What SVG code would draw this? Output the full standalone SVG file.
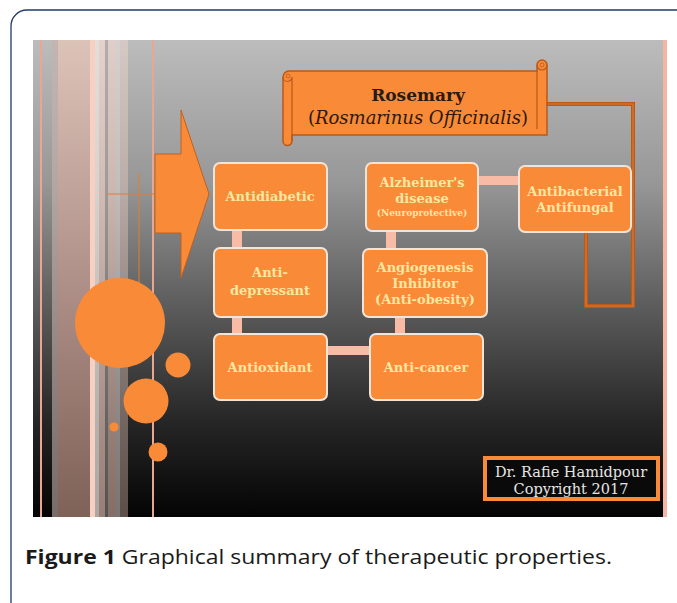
<svg xmlns="http://www.w3.org/2000/svg" width="677" height="603" viewBox="0 0 677 603">
<defs>
<linearGradient id="bg" x1="0" y1="0" x2="0" y2="1">
<stop offset="0" stop-color="#bcbcbc"/>
<stop offset="0.3" stop-color="#979797"/>
<stop offset="0.55" stop-color="#5e5e5e"/>
<stop offset="0.8" stop-color="#262626"/>
<stop offset="1" stop-color="#040404"/>
</linearGradient>
<linearGradient id="brown" x1="0" y1="0" x2="0" y2="1">
<stop offset="0" stop-color="#dcc3b8"/>
<stop offset="0.5" stop-color="#b0918a"/>
<stop offset="1" stop-color="#7e6157"/>
</linearGradient>
<linearGradient id="pale" x1="0" y1="0" x2="0" y2="1">
<stop offset="0" stop-color="#f3d9cf"/>
<stop offset="1" stop-color="#c9a89c"/>
</linearGradient>
<style>
.box{fill:#f98a38;stroke:#f3e4da;stroke-width:2}
.lk{fill:#f8bba6}
.bt{font-family:"DejaVu Serif","Liberation Serif",serif;font-weight:bold;font-size:13px;fill:#fbe7a0;text-anchor:middle}
.sm{font-size:9px}
.circ{fill:#f98a38}
.br{fill:none;stroke:#b95a1b;stroke-width:4;stroke-linejoin:miter}
.bri{fill:none;stroke:#e2782e;stroke-width:1.2}
.ser{font-family:"DejaVu Serif","Liberation Serif",serif}
</style>
</defs>
<!-- frame -->
<rect x="11" y="10" width="690" height="620" rx="16" fill="#ffffff" stroke="#1f3b66" stroke-width="1.3"/>
<!-- panel -->
<rect x="33" y="40" width="634" height="477" fill="url(#bg)"/>
<!-- left stripes -->
<rect x="40" y="40" width="2" height="477" fill="#e9a690"/>
<rect x="52" y="40" width="6" height="477" fill="#c8b0a8" opacity="0.6"/>
<rect x="58" y="40" width="32" height="477" fill="url(#brown)"/>
<rect x="90" y="40" width="5" height="477" fill="#f8d0c2"/>
<rect x="95" y="40" width="4" height="477" fill="#f2ece8" opacity="0.7"/>
<rect x="99" y="40" width="6" height="477" fill="url(#pale)" opacity="0.75"/>
<rect x="105" y="40" width="3" height="477" fill="#a8a0a0" opacity="0.5"/>
<rect x="108" y="40" width="8" height="477" fill="url(#pale)" opacity="0.65"/>
<rect x="116" y="40" width="4" height="477" fill="#f0e6e2" opacity="0.5"/>
<rect x="120" y="40" width="8" height="477" fill="url(#pale)" opacity="0.45"/>
<rect x="152" y="40" width="2" height="477" fill="#e6a892"/>
<rect x="663" y="40" width="4" height="477" fill="#f4b6a2"/>
<!-- thin cross lines -->
<line x1="107" y1="194" x2="155" y2="194" stroke="#e57c34" stroke-width="1"/>
<line x1="139" y1="173" x2="139" y2="288" stroke="#e57c34" stroke-width="1"/>
<!-- circles -->
<circle class="circ" cx="120" cy="323" r="45"/>
<circle class="circ" cx="178" cy="365" r="12.5"/>
<circle class="circ" cx="146" cy="401" r="22.5"/>
<circle class="circ" cx="114" cy="427" r="4.5"/>
<circle class="circ" cx="158" cy="452" r="9.5"/>
<!-- big arrow -->
<path d="M155,154 H181 V110 L209,194 L181,278 V233 H155 Z" fill="#f98a38" stroke="#c2611e" stroke-width="1"/>
<!-- connectors -->
<g id="connectors">
<rect class="lk" x="232" y="229" width="10" height="20"/>
<rect class="lk" x="232" y="316" width="10" height="19"/>
<rect class="lk" x="326" y="346" width="45" height="9"/>
<rect class="lk" x="395" y="316" width="10" height="19"/>
<rect class="lk" x="386" y="230" width="10" height="20"/>
<rect class="lk" x="477" y="176" width="43" height="9"/>
<path class="br" d="M547,104 H633 V306 H586 V232"/>
<path class="bri" d="M547,104 H633 V306 H586 V232"/>
</g>
<!-- scroll -->
<g id="title">
<path d="M283,77 A6,6 0 0 1 289,71 H537 V65 A5,5 0 0 1 547,65 V135 H292 V141 A4.5,4.5 0 0 1 283,141 Z" fill="#f98a38" stroke="#b85a1a" stroke-width="1.5"/>
<path d="M292,77 V141 M283,77 A4.5,4.5 0 0 0 292,77 M537,71 V129 M537,65 A5,5 0 0 0 547,65" fill="none" stroke="#b85a1a" stroke-width="1.2"/>
<circle cx="288" cy="76" r="2" fill="none" stroke="#b85a1a" stroke-width="0.8"/>
<circle cx="542" cy="65" r="2" fill="none" stroke="#b85a1a" stroke-width="0.8"/>
<text class="ser" x="418" y="101" font-weight="bold" font-size="17" fill="#2a1a10" text-anchor="middle">Rosemary</text>
<text class="ser" x="418" y="124" font-size="18" fill="#2a1a10" text-anchor="middle">(<tspan font-style="italic">Rosmarinus Officinalis</tspan>)</text>
</g>
<!-- nodes -->
<g id="antidiabetic"><rect class="box" x="214" y="163" width="113" height="67" rx="6"/><text class="bt" x="270" y="201">Antidiabetic</text></g>
<g id="antidepressant"><rect class="box" x="214" y="248" width="113" height="69" rx="6"/><text class="bt" x="270" y="277">Anti-</text><text class="bt" x="270" y="295">depressant</text></g>
<g id="antioxidant"><rect class="box" x="214" y="334" width="113" height="66" rx="6"/><text class="bt" x="270" y="372">Antioxidant</text></g>
<g id="alzheimers"><rect class="box" x="366" y="163" width="112" height="68" rx="6"/><text class="bt" x="422" y="187">Alzheimer's</text><text class="bt" x="422" y="203">disease</text><text class="bt sm" x="422" y="216">(Neuroprotective)</text></g>
<g id="angiogenesis"><rect class="box" x="363" y="249" width="124" height="68" rx="6"/><text class="bt" x="425" y="272">Angiogenesis</text><text class="bt" x="425" y="288">Inhibitor</text><text class="bt" x="425" y="304">(Anti-obesity)</text></g>
<g id="anticancer"><rect class="box" x="370" y="334" width="113" height="66" rx="6"/><text class="bt" x="426" y="372">Anti-cancer</text></g>
<g id="antibacterial"><rect class="box" x="519" y="166" width="112" height="66" rx="6"/><text class="bt" x="575" y="196">Antibacterial</text><text class="bt" x="575" y="212">Antifungal</text></g>
<!-- copyright -->
<g id="copyright">
<rect x="485" y="458" width="173" height="41" fill="#0a0a0a" stroke="#f98a38" stroke-width="4"/>
<text class="ser" x="571" y="477" font-size="14.5" fill="#e6e6e6" text-anchor="middle">Dr. Rafie Hamidpour</text>
<text class="ser" x="571" y="494" font-size="14.5" fill="#e6e6e6" text-anchor="middle">Copyright 2017</text>
</g>
<!-- caption -->
<text x="25" y="564" font-family="'Open Sans','Noto Sans',sans-serif" font-size="20" fill="#1a1a1a" textLength="587" lengthAdjust="spacingAndGlyphs"><tspan font-weight="bold">Figure 1</tspan> Graphical summary of therapeutic properties.</text>
</svg>
